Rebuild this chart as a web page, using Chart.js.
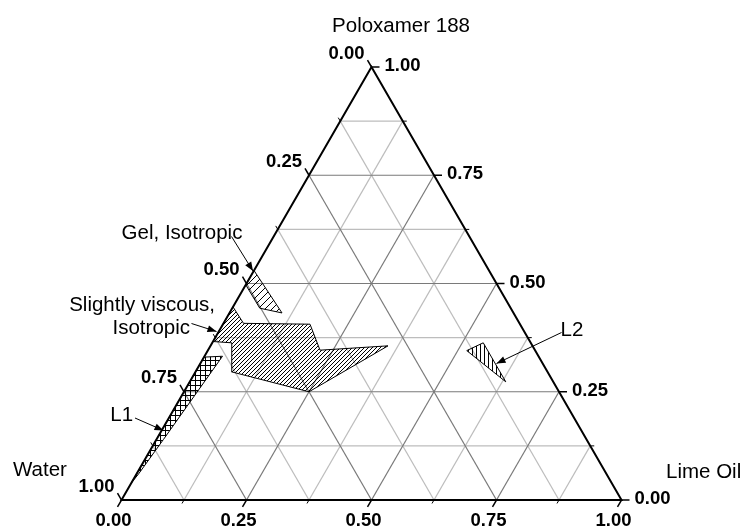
<!DOCTYPE html>
<html>
<head>
<meta charset="utf-8">
<script src="https://cdn.jsdelivr.net/npm/chart.js@4/dist/chart.umd.min.js"></script>
<style>
  body { margin: 0; background: #fff; }
  #wrap { width: 745px; height: 529px; }
</style>
</head>
<body>
<div id="wrap"><canvas id="myChart" width="745" height="529"></canvas></div>
<script>
// corner names of the triangle
const cornerNames = ['Water', 'Lime Oil', 'Poloxamer 188'];
// ticks along each side (fractions)
const tickValues = [0, 0.25, 0.5, 0.75, 1];
const tickLabels = ['0.00', '0.25', '0.50', '0.75', '1.00'];
const minorTicks = [0.125, 0.375, 0.625, 0.875];

// phase regions, points as [lime oil, poloxamer] fractions (water is the rest)
const gelIsotropic = [[0, 0.53], [0.105, 0.432], [0.055, 0.443], [0, 0.497]];
const slightlyViscous = [[0, 0.446], [0.04, 0.408], [0.174, 0.406], [0.224, 0.346], [0.355, 0.356],
  [0.25, 0.25], [0.072, 0.296], [0.039, 0.363], [0, 0.366]];
const regionL1 = [[0, 0.33], [0.036, 0.332], [0.014, 0.14], [0.004, 0.06], [0, 0.04]];
const regionL2 = [[0.518, 0.345], [0.542, 0.363], [0.632, 0.273]];
const regionNames = ['Gel, Isotropic', 'Slightly viscous,', 'Isotropic', 'L1', 'L2'];

const H = Math.sqrt(3) / 2;

// ternary (oil, polox) -> cartesian point
function toXY(oil, polox) {
  return { x: oil + polox / 2, y: polox * H };
}

function closedPath(points) {
  const pts = points.map(p => toXY(p[0], p[1]));
  pts.push(pts[0]);
  return pts;
}

const ctx = document.getElementById('myChart').getContext('2d');

// hatch patterns
function makePattern(kind, gap) {
  const c = document.createElement('canvas');
  c.width = gap;
  c.height = gap;
  const g = c.getContext('2d');
  g.strokeStyle = '#000';
  g.lineWidth = 1;
  g.beginPath();
  if (kind === 'slash') {
    g.moveTo(0, gap); g.lineTo(gap, 0);
    g.moveTo(-1, 1); g.lineTo(1, -1);
    g.moveTo(gap - 1, gap + 1); g.lineTo(gap + 1, gap - 1);
  } else if (kind === 'vertical') {
    g.moveTo(0.5, 0); g.lineTo(0.5, gap);
  } else if (kind === 'cross') {
    g.moveTo(0.5, 0); g.lineTo(0.5, gap);
    g.moveTo(0, 0.5); g.lineTo(gap, 0.5);
  }
  g.stroke();
  return ctx.createPattern(c, 'repeat');
}

// grid lines: one family per component
const gridSets = [];
const allGrid = minorTicks.concat([0.25, 0.5, 0.75]);
allGrid.forEach(t => {
  const major = (t * 4) % 1 === 0;
  const color = major ? '#7a7a7a' : '#bdbdbd';
  const lines = [
    [toXY(0, t), toXY(1 - t, t)],       // constant poloxamer
    [toXY(t, 0), toXY(t, 1 - t)],       // constant oil
    [toXY(0, 1 - t), toXY(1 - t, 0)]    // constant water
  ];
  lines.forEach(l => {
    gridSets.push({
      data: l, showLine: true, borderColor: color, borderWidth: 1.2,
      pointRadius: 0, fill: false, order: major ? 9 : 10
    });
  });
});

function region(points, pattern) {
  return {
    data: closedPath(points), showLine: true, fill: 'shape',
    backgroundColor: pattern, borderColor: '#000', borderWidth: 1,
    pointRadius: 0, tension: 0, order: 1
  };
}

// axes, ticks, labels and callouts
const ternaryFrame = {
  id: 'ternaryFrame',
  afterDatasetsDraw(chart) {
    const c = chart.ctx;
    const xs = chart.scales.x, ys = chart.scales.y;
    const px = (x, y) => [xs.getPixelForValue(x), ys.getPixelForValue(y)];
    const tp = (oil, polox) => { const p = toXY(oil, polox); return px(p.x, p.y); };

    c.save();
    c.strokeStyle = '#000';
    c.fillStyle = '#000';

    // triangle edges
    const A = tp(0, 0), B = tp(1, 0), C = tp(0, 1);
    c.lineWidth = 2;
    c.beginPath();
    c.moveTo(A[0], A[1]); c.lineTo(B[0], B[1]); c.lineTo(C[0], C[1]); c.closePath();
    c.stroke();

    // ticks
    const dirBottom = [-0.5, 0.866], dirLeft = [-0.5, -0.866], dirRight = [1, 0];
    function tick(pt, dir, len) {
      c.beginPath();
      c.moveTo(pt[0], pt[1]);
      c.lineTo(pt[0] + dir[0] * len, pt[1] + dir[1] * len);
      c.stroke();
    }
    c.lineWidth = 1.5;
    tickValues.forEach(t => {
      tick(tp(t, 0), dirBottom, 8);
      tick(tp(0, 1 - t), dirLeft, 8);
      tick(tp(1 - t, t), dirRight, 8);
    });
    c.lineWidth = 1;
    minorTicks.forEach(t => {
      tick(tp(t, 0), dirBottom, 4);
      tick(tp(0, 1 - t), dirLeft, 4);
      tick(tp(1 - t, t), dirRight, 4);
    });

    // tick labels
    c.font = 'bold 18.5px "Liberation Sans", Arial, sans-serif';
    c.textBaseline = 'middle';
    tickValues.forEach((t, i) => {
      let p = tp(t, 0);
      c.textAlign = 'center';
      c.fillText(tickLabels[i], p[0] - 8, p[1] + 21);
      p = tp(0, 1 - t);
      c.textAlign = 'right';
      c.fillText(tickLabels[i], p[0] - 7, p[1] - 13.5);
      p = tp(1 - t, t);
      c.textAlign = 'left';
      c.fillText(tickLabels[i], p[0] + 13, p[1] - 1);
    });

    // corner names and callout texts
    c.font = '20.5px "Liberation Sans", Arial, sans-serif';
    function text(str, x, y, align) {
      const p = px(x, y);
      c.textAlign = align;
      c.fillText(str, p[0], p[1]);
    }
    text(cornerNames[2], 0.559, 0.948, 'center');
    text(cornerNames[0], -0.217, 0.06, 'left');
    text(cornerNames[1], 1.089, 0.056, 'left');
    text(regionNames[0], 0.121, 0.534, 'center');
    text(regionNames[1], 0.187, 0.39, 'right');
    text(regionNames[2], 0.137, 0.344, 'right');
    text(regionNames[3], 0.0004, 0.17, 'center');
    text(regionNames[4], 0.901, 0.34, 'center');

    // arrows
    function arrow(x0, y0, x1, y1) {
      const a = px(x0, y0), b = px(x1, y1);
      const ang = Math.atan2(b[1] - a[1], b[0] - a[0]);
      c.lineWidth = 1;
      c.beginPath();
      c.moveTo(a[0], a[1]);
      c.lineTo(b[0], b[1]);
      c.stroke();
      c.beginPath();
      c.moveTo(b[0], b[1]);
      c.lineTo(b[0] - 9 * Math.cos(ang) + 3.5 * Math.sin(ang), b[1] - 9 * Math.sin(ang) - 3.5 * Math.cos(ang));
      c.lineTo(b[0] - 9 * Math.cos(ang) - 3.5 * Math.sin(ang), b[1] - 9 * Math.sin(ang) + 3.5 * Math.cos(ang));
      c.closePath();
      c.fill();
    }
    arrow(0.220, 0.527, 0.263, 0.458);
    arrow(0.140, 0.353, 0.190, 0.337);
    arrow(0.027, 0.164, 0.084, 0.139);
    arrow(0.880, 0.335, 0.750, 0.273);

    c.restore();
  }
};

new Chart(ctx, {
  type: 'scatter',
  data: {
    datasets: [
      region(gelIsotropic, makePattern('slash', 7)),
      region(slightlyViscous, makePattern('slash', 4)),
      region(regionL1, makePattern('cross', 5)),
      region(regionL2, makePattern('vertical', 4))
    ].concat(gridSets)
  },
  options: {
    responsive: false,
    animation: false,
    events: [],
    layout: { padding: { left: 121.5, right: 123.5, top: 67, bottom: 29 } },
    scales: {
      x: { type: 'linear', min: 0, max: 1, display: false },
      y: { type: 'linear', min: 0, max: H, display: false }
    },
    plugins: {
      legend: { display: false },
      tooltip: { enabled: false }
    }
  },
  plugins: [ternaryFrame]
});
</script>
</body>
</html>
